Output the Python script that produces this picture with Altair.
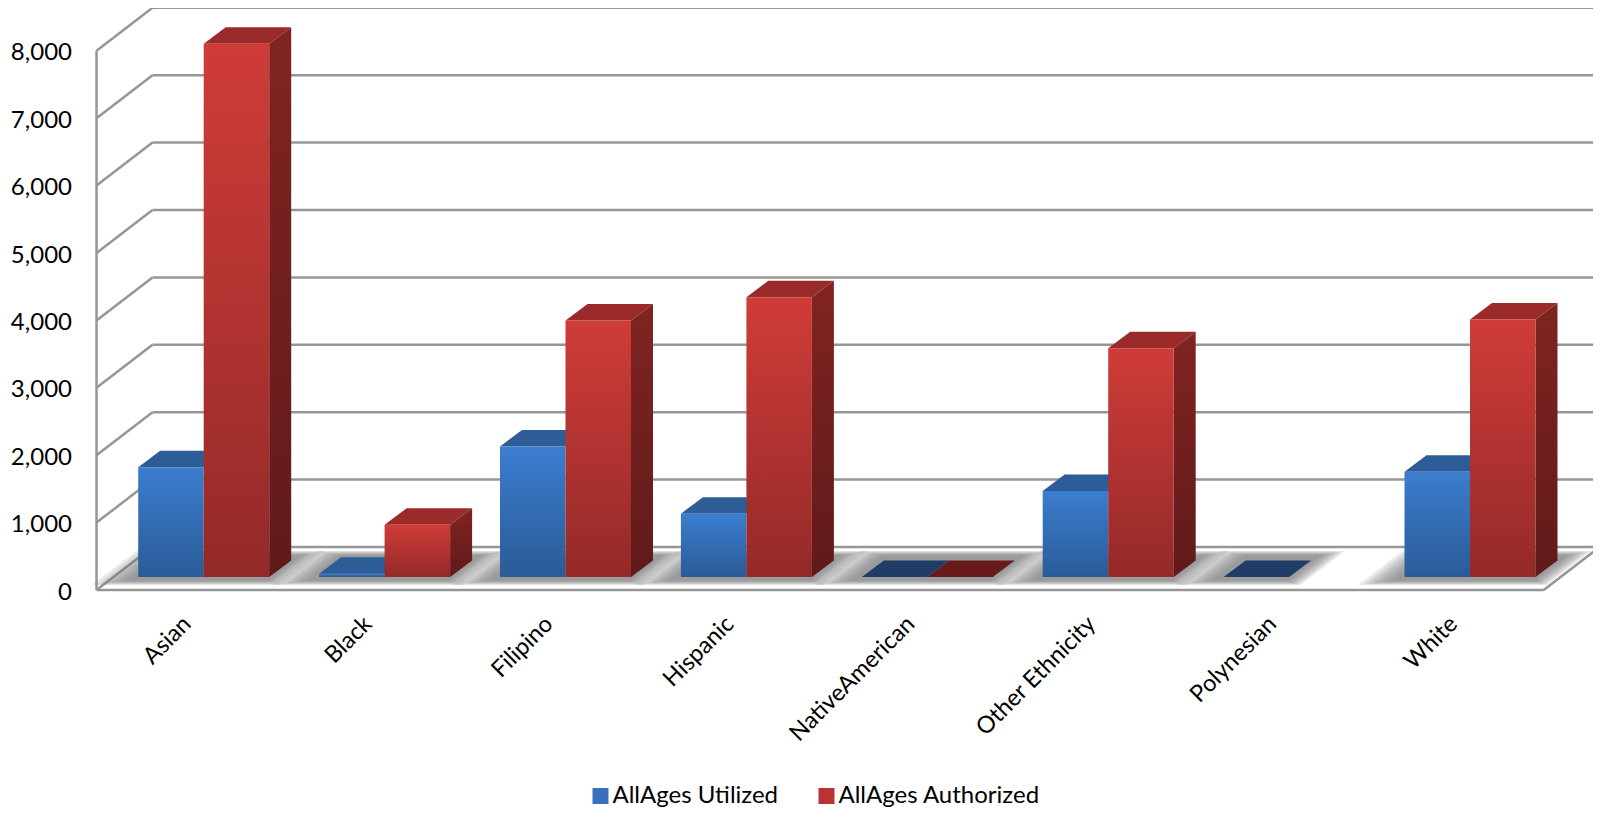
import altair as alt
import pandas as pd

categories = ["Asian", "Black", "Filipino", "Hispanic", "NativeAmerican",
              "Other Ethnicity", "Polynesian", "White"]
utilized = [1630, 50, 1935, 940, 0, 1275, 0, 1560]
authorized = [7910, 775, 3805, 4150, 0, 3395, None, 3820]
y_ticks = [0, 1000, 2000, 3000, 4000, 5000, 6000, 7000, 8000]
series = ["AllAges Utilized", "AllAges Authorized"]

# scale of the picture
PX_PER_CAT = 180.9
PX_PER_K = 67.4
def cx(px): return px / PX_PER_CAT
def vy(px): return px / PX_PER_K * 1000

W, H = 1496.5, 581
X_MAX = W / PX_PER_CAT
Y_MAX = H / PX_PER_K * 1000
WALL_DX, WALL_DV = cx(56), vy(43)
X_END = len(categories) + WALL_DX
BAR_X0, BAR_V0 = cx(17), vy(13)
BAR_DX, BAR_DV = cx(22), vy(16.5)
BAR_W, BAR_GAP = cx(65.5), cx(24.7)

x_s = alt.Scale(domain=[0, X_MAX], nice=False, zero=False)
y_s = alt.Scale(domain=[0, Y_MAX], nice=False, zero=False)
x_axis = alt.Axis(
    title=None, values=[i + 0.5 for i in range(len(categories))],
    labelExpr="[" + ",".join(f"'{c}'" for c in categories) + "][floor(datum.value)]",
    labelAngle=-45, labelAlign="right", labelBaseline="middle", labelPadding=30,
    labelFont="Lato", labelFontSize=23.5, labelColor="#000000",
    domain=False, ticks=False, grid=False, labelOverlap=False, labelBound=False, labelFlush=False)
y_axis = alt.Axis(
    title=None, values=y_ticks, format=",.0f", labelPadding=25, labelOffset=2,
    labelFont="Lato", labelFontSize=24, labelColor="#000000",
    domain=False, ticks=False, grid=False, labelOverlap=False, labelBound=False, labelFlush=False)
X = alt.X("x:Q", scale=x_s, axis=x_axis)
Y = alt.Y("y:Q", scale=y_s, axis=y_axis, stack=None)
Y2 = alt.Y2("y2:Q")


def para(g, x0, x1, v, dx, dv):
    """Parallelogram x0..x1 at height v, shifted by (dx, dv) at the back."""
    xs = sorted([(x0, v, v), (x0 + dx, v, v + dv), (x1, v, v + dv), (x1 + dx, v + dv, v + dv)])
    return [{"g": g, "x": a, "y": b, "y2": c} for a, b, c in xs]


def area_layer(rows, fill, opacity=1.0):
    return alt.Chart(pd.DataFrame(rows)).mark_area(fill=fill, opacity=opacity).encode(
        x=X, y=Y, y2=Y2, detail="g:N")


def grad(top, bottom):
    return alt.LinearGradient(gradient="linear", x1=0, y1=0, x2=0, y2=1,
                              stops=[alt.GradientStop(color=top, offset=0),
                                     alt.GradientStop(color=bottom, offset=1)])


# walls and floor
rules = []
for t in y_ticks:
    rules.append({"x": 0, "x2": WALL_DX, "y": t, "y2": t + WALL_DV})
    rules.append({"x": WALL_DX, "x2": X_END, "y": t + WALL_DV, "y2": t + WALL_DV})
rules.append({"x": 0, "x2": 0, "y": 0, "y2": y_ticks[-1]})
rules.append({"x": 0, "x2": len(categories), "y": 0, "y2": 0})
rules.append({"x": len(categories), "x2": X_END, "y": 0, "y2": WALL_DV})
grid = alt.Chart(pd.DataFrame(rules)).mark_rule(color="#969696", strokeWidth=2.5).encode(
    x=X, x2="x2:Q", y=Y, y2=Y2)

# bars' geometry
LEVELS = 8
front, top_blue, top_red, top_blue0, top_red0, sides = [], [], [], [], [], []
shadow_levels = [[] for _ in range(LEVELS)]
for i, c in enumerate(categories):
    x0 = i + BAR_X0 + BAR_GAP
    xm = x0 + BAR_W
    xr = xm + BAR_W
    u, a = utilized[i], authorized[i]
    front.append({"s": "u", "x": x0, "x2": xm, "y": BAR_V0, "y2": BAR_V0 + u})
    if a is not None:
        front.append({"s": "a", "x": xm, "x2": xr, "y": BAR_V0, "y2": BAR_V0 + a})
    (top_blue if u > 0 else top_blue0).extend(para(f"u{i}", x0, xm, BAR_V0 + u, BAR_DX, BAR_DV))
    if a is not None:
        (top_red if a > 0 else top_red0).extend(para(f"a{i}", xm, xr, BAR_V0 + a, BAR_DX, BAR_DV))
        if a > 0:
            sides.extend([
                {"g": f"s{i}", "x": xr, "y": BAR_V0, "y2": BAR_V0 + a},
                {"g": f"s{i}", "x": xr + BAR_DX, "y": BAR_V0 + BAR_DV, "y2": BAR_V0 + BAR_DV + a},
            ])
    end = xr if a is not None else xm
    for k in range(LEVELS):
        ml, mr = cx(36 - 4 * k), cx(22 - 2.6 * k)
        fv, bv = vy(5 + 0.6 * k), vy(39 - 0.6 * k)
        dep = (bv - fv) / WALL_DV * WALL_DX
        sx = fv / WALL_DV * WALL_DX
        shadow_levels[k].extend(para(f"sh{i}", x0 - BAR_X0 + sx - ml, end - BAR_X0 + sx + mr, fv, dep, bv - fv))

shadow_layers = [area_layer(rows, "#787878", 0.15) for rows in shadow_levels]

front_df = pd.DataFrame(front)
front_df = front_df[front_df.y2 > front_df.y]


def front_layer(s, g):
    return alt.Chart(front_df[front_df.s == s]).mark_rect(fill=g).encode(
        x=X, x2="x2:Q", y=Y, y2=Y2)


# legend, through a hidden layer
base_df = pd.DataFrame({"x": [0, 0], "y": [0, 0], "series": series})
base = alt.Chart(base_df).mark_point(size=1, filled=True, shape="square", opacity=0).encode(
    x=X, y=Y,
    color=alt.Color("series:N", scale=alt.Scale(domain=series, range=["#3671ba", "#b83331"]),
                    legend=alt.Legend(
                        title=None, orient="none", legendX=492, legendY=775, columns=2,
                        symbolType="square", symbolSize=256, symbolOpacity=1, symbolStrokeWidth=0,
                        labelFont="Lato", labelFontSize=24, labelColor="#000000", labelOffset=0,
                        labelLimit=300, columnPadding=36, padding=0)),
)

chart = alt.layer(
    base,
    grid,
    *shadow_layers,
    area_layer(top_blue, "#2c5d96"),
    area_layer(top_blue0, "#1f3d66"),
    area_layer(top_red, "#9b2b2a"),
    area_layer(top_red0, "#681b1a"),
    area_layer(sides, grad("#802421", "#601a1a")),
    front_layer("u", grad("#3b7dcf", "#2a5b97")),
    front_layer("a", grad("#cf3c38", "#932a29")),
).properties(
    width=W, height=H,
    autosize=alt.AutoSizeParams(type="none"),
    padding={"left": 88.5, "top": 1, "right": 0, "bottom": 218},
).configure_view(stroke=None)

chart.save("out.html", embed_options={"renderer": "svg", "actions": False})
